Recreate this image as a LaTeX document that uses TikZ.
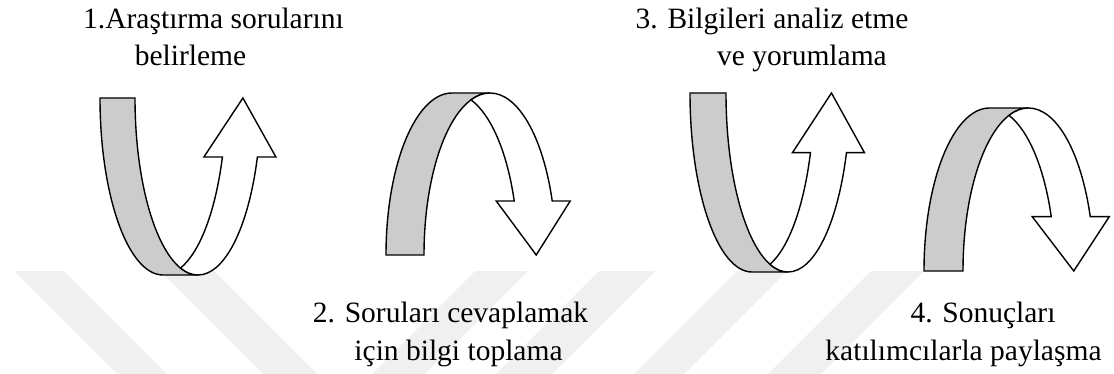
\documentclass[tikz,border=0pt]{standalone}
\usepackage{fontspec}
\setmainfont{Liberation Serif}

\tikzset{
  ribbonback/.style={draw=black, fill=black!20, line width=1.4pt},
  ribbonfront/.style={draw=black, fill=white, line width=1.4pt},
  wmstripe/.style={fill=black!6, draw=none},
  steptext/.style={font=\fontsize{29.5}{35}\selectfont, inner sep=0pt, anchor=base}
}

% U-turn ribbon ending in an upward arrow.
% #1 centre x of the back arc, #2 y of the top line, #3 x radius,
% #4 y radius, #5 ribbon width, #6 half width of the arrow head
\newcommand\uturnup[6]{%
  \pgfmathsetmacro\rbH{asin(1/3)}%
  \pgfmathsetmacro\rbC{acos(#5/(2*#3))}%
  \pgfmathsetmacro\rbS{#1+#5/2+#3*cos(\rbH)}%
  \pgfmathsetmacro\rbY{#2+#4/3}%
  \filldraw[ribbonback] (#1-#3,#2)
    arc[start angle=180, end angle=90, x radius=#3, y radius=#4]
    -- (#1+#5,#2+#4)
    arc[start angle=90, end angle=180, x radius=#3, y radius=#4] -- cycle;
  \filldraw[ribbonfront] (#1+#5,#2+#4)
    arc[start angle=90, end angle=\rbH, x radius=#3, y radius=#4]
    -- (\rbS+#6,\rbY) -- (\rbS+3,#2) -- (\rbS-#6,\rbY)
    -- ({#1+#3*cos(\rbH)},\rbY)
    arc[start angle=\rbH, end angle=\rbC, x radius=#3, y radius=#4]
    arc[start angle=180-\rbC, end angle=90, x radius=#3, y radius=#4] -- cycle;
}

% Arched ribbon ending in a downward arrow.
% #2 is the y of the bottom line; other arguments as above.
\newcommand\uturndown[6]{%
  \pgfmathsetmacro\rbH{asin(1/3)}%
  \pgfmathsetmacro\rbC{acos(#5/(2*#3))}%
  \pgfmathsetmacro\rbS{#1+#5/2+#3*cos(\rbH)}%
  \pgfmathsetmacro\rbY{#2-#4/3}%
  \filldraw[ribbonback] (#1-#3,#2)
    arc[start angle=180, end angle=270, x radius=#3, y radius=#4]
    -- (#1+#5,#2-#4)
    arc[start angle=270, end angle=180, x radius=#3, y radius=#4] -- cycle;
  \filldraw[ribbonfront] (#1+#5,#2-#4)
    arc[start angle=270, end angle=360-\rbH, x radius=#3, y radius=#4]
    -- (\rbS+#6,\rbY) -- (\rbS+3,#2) -- (\rbS-#6,\rbY)
    -- ({#1+#3*cos(\rbH)},\rbY)
    arc[start angle=360-\rbH, end angle=360-\rbC, x radius=#3, y radius=#4]
    arc[start angle=180+\rbC, end angle=270, x radius=#3, y radius=#4] -- cycle;
}

\begin{document}
\begin{tikzpicture}[x=1pt, y=-1pt]
\useasboundingbox (0,0) rectangle (1114,374);

% faint background stripes
\fill[wmstripe] (14,271) -- (64,271) -- (167,374) -- (117,374) -- cycle;
\fill[wmstripe] (160,271) -- (214,271) -- (317,374) -- (263,374) -- cycle;
\fill[wmstripe] (475,271) -- (528,271) -- (425,374) -- (372,374) -- cycle;
\fill[wmstripe] (599,271) -- (655,271) -- (552,374) -- (496,374) -- cycle;
\fill[wmstripe] (737,271) -- (787,271) -- (684,374) -- (634,374) -- cycle;
\fill[wmstripe] (871,271) -- (924,271) -- (821,374) -- (768,374) -- cycle;

% the four ribbon arrows
\uturnup{163}{98}{63}{177}{35}{36}
\uturndown{452}{255}{66}{162}{38}{37}
\uturnup{752}{93}{62}{179}{36}{36}
\uturndown{989.5}{271}{65.5}{163}{39}{38.5}

% step captions
\node[steptext] (s1a) at (213.5,29) {1.Araştırma sorularını};
\node[steptext] (s1b) at (190.5,66) {belirleme};
\node[steptext] (s2a) at (450.5,322) {2. Soruları cevaplamak};
\node[steptext] (s2b) at (458.5,360) {için bilgi toplama};
\node[steptext] (s3a) at (772,29) {3. Bilgileri analiz etme};
\node[steptext] (s3b) at (802,66) {ve yorumlama};
\node[steptext] (s4a) at (983,322) {4. Sonuçları};
\node[steptext] (s4b) at (963.5,360) {katılımcılarla paylaşma};
\end{tikzpicture}
\end{document}
